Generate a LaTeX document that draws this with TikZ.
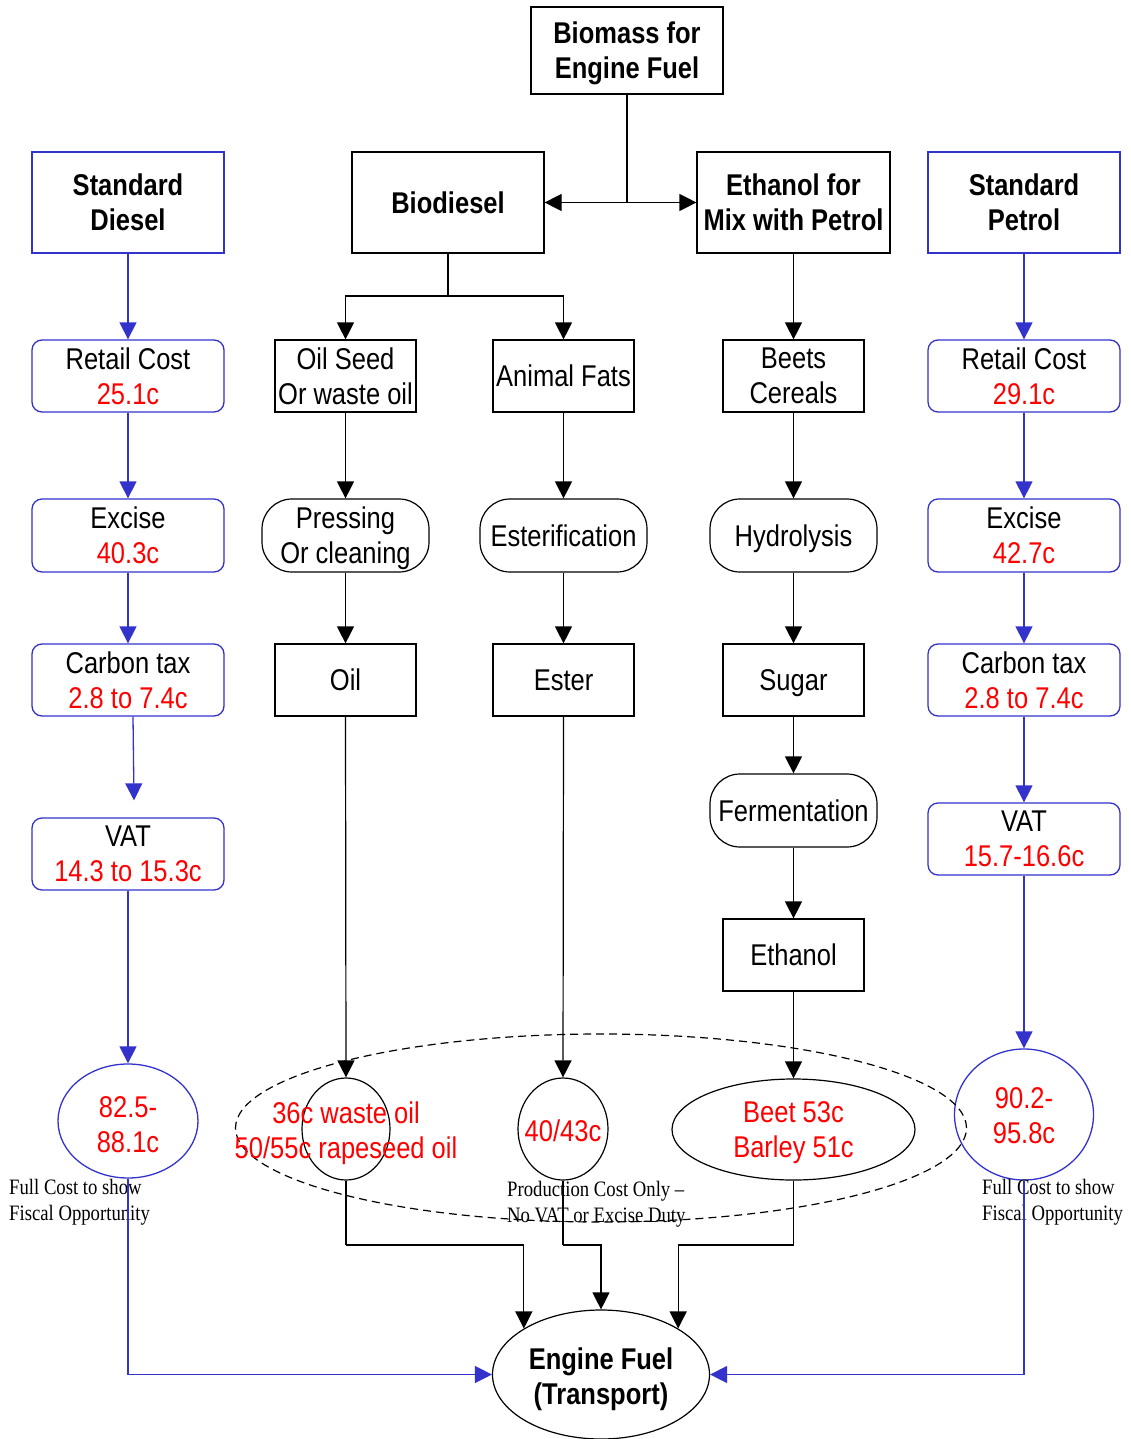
\documentclass[tikz,border=0pt]{standalone}
\usepackage{fontspec}
\setmainfont{Liberation Sans}[FakeStretch=0.85]
\newfontfamily\tnr{Liberation Serif}[FakeStretch=0.85,Ligatures=TeX]
\usetikzlibrary{arrows.meta,shapes.geometric}
\definecolor{bl}{RGB}{51,51,204}
\definecolor{rd}{RGB}{255,0,0}
\tikzset{
  txt/.style={align=center,font=\fontsize{30}{35}\selectfont,inner sep=0pt,text depth=0pt},
  box/.style={txt,draw,line width=1.2pt,minimum height=72pt,minimum width=141pt},
  bbox/.style={txt,draw=bl,line width=1.3pt,rounded corners=10pt,minimum height=72pt,minimum width=192pt},
  hbox/.style={box,font=\fontsize{30}{35}\selectfont\bfseries,minimum width=192pt,minimum height=101pt},
  proc/.style={box,rounded corners=30pt,minimum width=167pt,minimum height=73pt},
  ell/.style={draw,ellipse,line width=1.2pt,inner sep=0pt},
  bell/.style={ell,draw=bl,line width=1.3pt},
  note/.style={align=left,font=\tnr\fontsize{22}{26}\selectfont,inner sep=0pt,anchor=west,text depth=0pt},
  arr/.style={line width=1.2pt,-{Triangle[length=17pt,width=17pt]}},
  ln/.style={line width=1.2pt},
  barr/.style={line width=1.3pt,draw=bl,-{Triangle[length=17pt,width=17pt]},color=bl},
}
\begin{document}
\begin{tikzpicture}[x=1pt,y=-1pt]
\useasboundingbox (0,0) rectangle (1131,1439);

% header row
\node[hbox,minimum height=87pt] (biomass) at (627,50.5) {Biomass for\\Engine Fuel};
\node[hbox,draw=bl] (sdiesel) at (128,202.5) {Standard\\Diesel};
\node[hbox] (biodiesel) at (448,202.5) {Biodiesel};
\node[hbox,minimum width=193pt] (ethmix) at (793.5,202.5) {Ethanol for\\Mix with Petrol};
\node[hbox,draw=bl] (spetrol) at (1024,202.5) {Standard\\Petrol};

% row 2
\node[bbox] (rc1) at (128,376) {Retail Cost\\\textcolor{rd}{25.1c}};
\node[box] (oilseed) at (345.5,376) {Oil Seed\\Or waste oil};
\node[box] (animal) at (563.5,376) {Animal Fats};
\node[box] (beets) at (793.5,376) {Beets\\Cereals};
\node[bbox] (rc2) at (1024,376) {Retail Cost\\\textcolor{rd}{29.1c}};

% row 3
\node[bbox,minimum height=73pt] (ex1) at (128,535.5) {Excise\\\textcolor{rd}{40.3c}};
\node[proc] (pressing) at (345.5,535.5) {Pressing\\Or cleaning};
\node[proc] (esterif) at (563.5,535.5) {Esterification};
\node[proc] (hydro) at (793.5,535.5) {Hydrolysis};
\node[bbox,minimum height=73pt] (ex2) at (1024,535.5) {Excise\\\textcolor{rd}{42.7c}};

% row 4
\node[bbox] (ct1) at (128,680) {Carbon tax\\\textcolor{rd}{2.8 to 7.4c}};
\node[box] (oil) at (345.5,680) {Oil};
\node[box] (ester) at (563.5,680) {Ester};
\node[box] (sugar) at (793.5,680) {Sugar};
\node[bbox] (ct2) at (1024,680) {Carbon tax\\\textcolor{rd}{2.8 to 7.4c}};

% further
\node[bbox] (vat1) at (128,854) {VAT\\\textcolor{rd}{14.3 to 15.3c}};
\node[bbox] (vat2) at (1024,839) {VAT\\\textcolor{rd}{15.7-16.6c}};
\node[proc] (ferm) at (793.5,810.5) {Fermentation};
\node[box] (ethanol) at (793.5,955) {Ethanol};

% bottom ellipses
\node[bell,minimum width=140pt,minimum height=114pt] (le) at (128,1121) {};
\node[bell,minimum width=139pt,minimum height=131pt] (re) at (1024,1114.5) {};
\node[ell,minimum width=88pt,minimum height=102pt] (oe) at (346,1129) {};
\node[ell,minimum width=90pt,minimum height=102pt] (fe) at (563,1129) {};
\node[ell,minimum width=243pt,minimum height=101pt] (be) at (793.5,1129.5) {};
\node[ell,dashed,dash pattern=on 8pt off 5pt,minimum width=731pt,minimum height=188pt] (big) at (601,1128) {};
\node[ell,minimum width=217pt,minimum height=129pt] (engine) at (601,1374.5) {};
\node[txt,font=\fontsize{30}{35}\selectfont\bfseries] (enginet) at (601,1376) {Engine Fuel\\(Transport)};

\node[txt,text=rd] (let) at (128,1124.5) {82.5-\\88.1c};
\node[txt,text=rd] (ret) at (1024,1116) {90.2-\\95.8c};
\node[txt,text=rd] (oet) at (346,1130) {36c waste oil\\50/55c rapeseed oil};
\node[txt,text=rd] (fet) at (563,1131) {40/43c};
\node[txt,text=rd] (bet) at (793.5,1130) {Beet 53c\\Barley 51c};

\node[note] (n1) at (9,1200) {Full Cost to show\\Fiscal Opportunity};
\node[note] (n2) at (982,1200) {Full Cost to show\\Fiscal Opportunity};
\node[note] (n3) at (507,1202) {Production Cost Only \textendash\\No VAT or Excise Duty};

% connectors top
\coordinate (j1) at (627,202.5);
\draw[ln] (biomass.south) -- (j1);
\draw[arr] (j1) -- (biodiesel.east);
\draw[arr] (j1) -- (ethmix.west);
\coordinate (j2) at (448,296);
\draw[ln] (biodiesel.south) -- (j2);
\draw[arr] (j2) -| (oilseed.north);
\draw[arr] (j2) -| (animal.north);

% black columns
\draw[arr] (oilseed.south) -- (pressing.north);
\draw[arr] (pressing.south) -- (oil.north);
\draw[arr] (oil.south) -- (oe.north);
\draw[arr] (animal.south) -- (esterif.north);
\draw[arr] (esterif.south) -- (ester.north);
\draw[arr] (ester.south) -- (fe.north);
\draw[arr] (ethmix.south) -- (beets.north);
\draw[arr] (beets.south) -- (hydro.north);
\draw[arr] (hydro.south) -- (sugar.north);
\draw[arr] (sugar.south) -- (ferm.north);
\draw[arr] (ferm.south) -- (ethanol.north);
\draw[arr] (ethanol.south) -- (be.north);

% blue columns
\draw[barr] (sdiesel.south) -- (rc1.north);
\draw[barr] (rc1.south) -- (ex1.north);
\draw[barr] (ex1.south) -- (ct1.north);
\draw[barr] ([xshift=5pt]ct1.south) -- ([xshift=6pt,yshift=17pt]vat1.north);
\draw[barr] (vat1.south) -- (le.north);
\draw[barr] (spetrol.south) -- (rc2.north);
\draw[barr] (rc2.south) -- (ex2.north);
\draw[barr] (ex2.south) -- (ct2.north);
\draw[barr] (ct2.south) -- (vat2.north);
\draw[barr] (vat2.south) -- (re.north);

% bottom connectors
\coordinate (k1) at (346,1245);
\coordinate (k2) at (563,1245);
\coordinate (k3) at (793.5,1245);
\draw[ln] (oe.south) -- (k1);
\draw[arr] (k1) -| (engine.north west);
\draw[ln] (fe.south) -- (k2);
\draw[arr] (k2) -| (engine.north);
\draw[ln] (be.south) -- (k3);
\draw[arr] (k3) -| (engine.north east);
\draw[barr] (le.south) |- (engine.west);
\draw[barr] (re.south) |- (engine.east);
\end{tikzpicture}
\end{document}
